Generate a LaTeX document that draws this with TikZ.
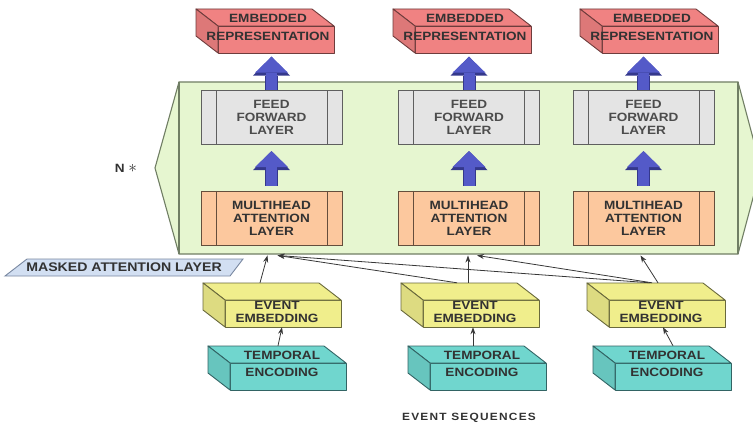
\documentclass[tikz,border=0pt]{standalone}
\usepackage{fontspec}
\setmainfont{Liberation Sans}[FakeStretch=1.13]
\usepackage{tikz}
\usetikzlibrary{arrows.meta,positioning,calc}
\definecolor{stackfill}{RGB}{230,246,208}
\definecolor{stackline}{RGB}{112,126,100}
\definecolor{fffill}{RGB}{228,228,228}
\definecolor{ffline}{RGB}{95,95,95}
\definecolor{mhafill}{RGB}{252,200,158}
\definecolor{mhaline}{RGB}{100,78,60}
\definecolor{embfill}{RGB}{240,130,130}
\definecolor{embline}{RGB}{110,60,60}
\definecolor{evfill}{RGB}{240,238,140}
\definecolor{evline}{RGB}{105,105,60}
\definecolor{tpfill}{RGB}{112,214,206}
\definecolor{tpline}{RGB}{50,100,100}
\definecolor{upblue}{RGB}{84,90,200}
\definecolor{upedge}{RGB}{52,56,140}
\definecolor{maskfill}{RGB}{210,223,242}
\definecolor{maskline}{RGB}{120,135,160}
\definecolor{txtgray}{RGB}{50,50,50}
\definecolor{arrgray}{RGB}{55,55,55}

\tikzset{
  barbox/.style={
    rectangle, minimum width=141pt, minimum height=54pt, inner sep=0pt,
    line width=0.9pt, align=center, text=txtgray,
    font=\fontsize{12}{13}\selectfont\bfseries,
    path picture={
      \draw[draw=#1, line width=0.9pt]
        ([xshift=15pt]path picture bounding box.north west) --
        ([xshift=15pt]path picture bounding box.south west)
        ([xshift=-15pt]path picture bounding box.north east) --
        ([xshift=-15pt]path picture bounding box.south east);
    }
  },
  ffbox/.style={barbox=ffline, draw=ffline, fill=fffill, text=black!70},
  mhabox/.style={barbox=mhaline, draw=mhaline, fill=mhafill},
  slabface/.style={line width=0.9pt, line join=round},
  slabnode/.style={rectangle, minimum width=138pt, minimum height=44pt,
    inner sep=0pt},
  slabtxt/.style={align=center, text=txtgray, inner sep=0pt,
    font=\fontsize{12}{13}\selectfont\bfseries},
  blockarr/.style={
    draw=upblue, line width=11pt,
    -{Triangle[width=33pt,length=16pt,line width=0pt]}, shorten >=1.5pt,
    preaction={draw=upedge, line width=13pt,
      -{Triangle[width=37pt,length=19pt,line width=0pt]}}
  },
  thinarr/.style={draw=arrgray, line width=0.8pt,
    -{Stealth[length=7pt,width=5pt]}},
  stackbox/.style={fill=stackfill, draw=stackline, line width=1.1pt},
  maskshape/.style={fill=maskfill, draw=maskline, line width=0.9pt},
  plainlabel/.style={text=txtgray, inner sep=0pt}
}

% 3D slab: name, front x, front y, colour, line colour, text, text shift
\newcommand{\slab}[8]{%
  \filldraw[slabface, fill=#4, draw=#5] (#2,#3) rectangle ++(116,27);
  \filldraw[slabface, fill=#4, draw=#5] (#2,#3) -- ++(-22,-17) -- ++(116,0)
    -- ++(22,17) -- cycle;
  \filldraw[slabface, fill=#4!92!black, draw=#5] (#2,#3) -- ++(-22,-17)
    -- ++(0,27) -- ++(22,17) -- cycle;
  \node[slabnode] (#1) at (#2+47,#3+5) {};
  \node[slabtxt] (#1t) at ($(#1)+(#7,#8)$) {#6};
}

\begin{document}
\begin{tikzpicture}[x=1pt,y=-1pt]
  \useasboundingbox (0,0) rectangle (753,425);
  \clip (0,0) rectangle (753,425);

  % stacked layers
  \filldraw[stackbox] (179,82) -- (738,82) -- (761,168) -- (738,254)
    -- (179,254) -- (155,168) -- cycle;
  \draw[draw=stackline, line width=1.1pt] (179,82) -- (179,254)
    (738,82) -- (738,254);
  \node[plainlabel, font=\fontsize{12}{13}\selectfont\bfseries]
    (nrep) at (126,168) {N {\fontsize{17}{17}\selectfont$\ast$}};

  \node[mhabox] (mha1) at (271.5,218) {MULTIHEAD\\ATTENTION\\LAYER};
  \node[mhabox] (mha2) at (469,218) {MULTIHEAD\\ATTENTION\\LAYER};
  \node[mhabox] (mha3) at (643.5,218) {MULTIHEAD\\ATTENTION\\LAYER};
  \node[ffbox, above=46pt of mha1] (ff1) {FEED\\FORWARD\\LAYER};
  \node[ffbox, above=46pt of mha2] (ff2) {FEED\\FORWARD\\LAYER};
  \node[ffbox, above=46pt of mha3] (ff3) {FEED\\FORWARD\\LAYER};

  % outputs and inputs
  \slab{emb1}{218}{26}{embfill}{embline}{EMBEDDED\\[5pt]REPRESENTATION}{3}{-4}
  \slab{emb2}{415}{26}{embfill}{embline}{EMBEDDED\\[5pt]REPRESENTATION}{3}{-4}
  \slab{emb3}{602}{26}{embfill}{embline}{EMBEDDED\\[5pt]REPRESENTATION}{3}{-4}
  \slab{ev1}{225}{300}{evfill}{evline}{EVENT\\EMBEDDING}{5}{6.5}
  \slab{ev2}{423}{300}{evfill}{evline}{EVENT\\EMBEDDING}{5}{6.5}
  \slab{ev3}{609}{300}{evfill}{evline}{EVENT\\EMBEDDING}{5}{6.5}
  \slab{tp1}{230}{363}{tpfill}{tpline}{TEMPORAL\\[4pt]ENCODING}{5}{-4.5}
  \slab{tp2}{430}{363}{tpfill}{tpline}{TEMPORAL\\[4pt]ENCODING}{5}{-4.5}
  \slab{tp3}{615}{363}{tpfill}{tpline}{TEMPORAL\\[4pt]ENCODING}{5}{-4.5}

  \filldraw[maskshape] (5,276) -- (27,259) -- (243,259) -- (230,276) -- cycle;
  \node[plainlabel, font=\fontsize{12.5}{13}\selectfont\bfseries]
    (mask) at (124,267.5) {MASKED ATTENTION LAYER};
  \node[plainlabel, font=\fontsize{10.5}{12}\selectfont\bfseries
    \addfontfeatures{LetterSpace=12}] (seq) at (469,418) {EVENT SEQUENCES};

  % Arrows
  \draw[blockarr] ([yshift=5pt]mha1.north) -- ([yshift=-5pt]ff1.south);
  \draw[blockarr] ([yshift=5pt]mha2.north) -- ([yshift=-5pt]ff2.south);
  \draw[blockarr] ([yshift=5pt]mha3.north) -- ([yshift=-5pt]ff3.south);
  \draw[blockarr] (ff1.north) -- ($(ff1.north |- emb1.south)+(0,2)$);
  \draw[blockarr] (ff2.north) -- ($(ff2.north |- emb2.south)+(0,2)$);
  \draw[blockarr] (ff3.north) -- ($(ff3.north |- emb3.south)+(0,2)$);

  \coordinate (att1a) at ([xshift=-4pt,yshift=-10pt]mha1.south);
  \coordinate (att1b) at ([xshift=6pt,yshift=-10pt]mha1.south);
  \coordinate (att2a) at ([xshift=-1pt,yshift=-10pt]mha2.south);
  \coordinate (att2b) at ([xshift=8pt,yshift=-10pt]mha2.south);
  \coordinate (att3a) at ([xshift=-3pt,yshift=-10pt]mha3.south);
  \draw[thinarr] ([xshift=-12pt]ev1.north) -- (att1a);
  \draw[thinarr] ([xshift=-13pt]ev2.north) -- (att1b);
  \draw[thinarr] ([xshift=-6pt]ev3.north) -- (att1b);
  \draw[thinarr] ([xshift=-2pt]ev2.north) -- (att2a);
  \draw[thinarr] ([xshift=-4pt]ev3.north) -- (att2b);
  \draw[thinarr] ([xshift=2pt]ev3.north) -- (att3a);
  \draw[thinarr] ([xshift=1pt]tp1.north) -- ([xshift=10pt]ev1.south);
  \draw[thinarr] ([xshift=-4pt]tp2.north) -- ([xshift=3pt]ev2.south);
  \draw[thinarr] ([xshift=11pt]tp3.north) -- ([xshift=7pt]ev3.south);
\end{tikzpicture}
\end{document}
